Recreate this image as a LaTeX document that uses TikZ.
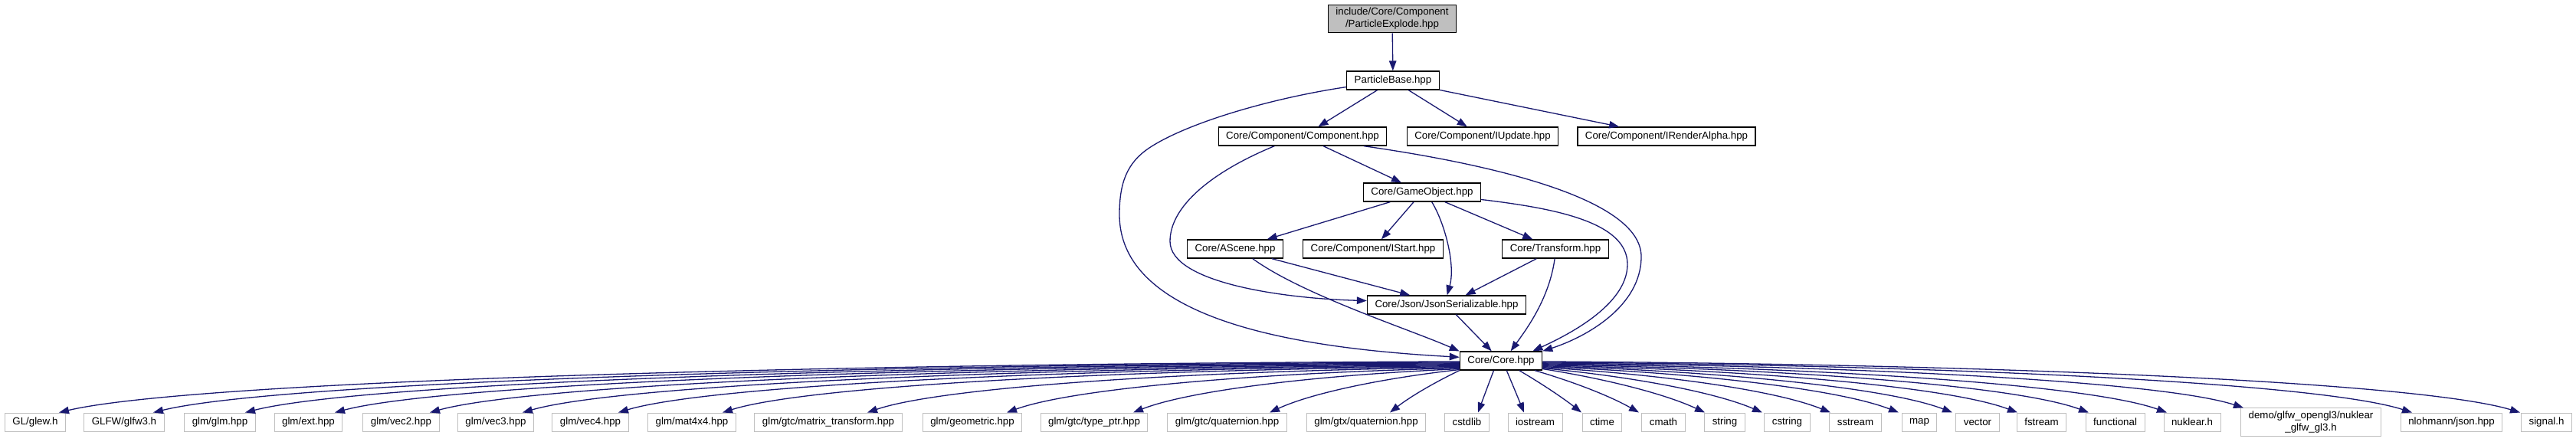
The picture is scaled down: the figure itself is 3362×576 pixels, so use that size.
\documentclass[tikz,border=0pt]{standalone}
\usepackage{fontspec}
\setmainfont{Liberation Sans}
\usetikzlibrary{arrows.meta,calc}
\definecolor{edgeblue}{HTML}{191970}
\definecolor{boxgray}{HTML}{BFBFBF}
\tikzset{
	hdr/.style={draw=black, line width=1.3pt, fill=white, inner xsep=10pt, inner ysep=4pt,
		minimum height=24pt, align=center, font=\fontsize{13.3}{16}\selectfont},
	syshdr/.style={hdr, draw=boxgray, line width=1pt},
	dep/.style={draw=edgeblue, line width=1.3pt, -{Triangle[length=13pt,width=9.5pt]}},
}
\begin{document}
\begin{tikzpicture}[x=1pt,y=-1pt]
	\path[fill=white] (0,0) rectangle (3362,576);
	\useasboundingbox (0,0) rectangle (3362,576);
	% Project headers
	\node[hdr, fill=boxgray] (root) at (1817,24.5) {include/Core/Component\\/ParticleExplode.hpp};
	\node[hdr] (pbase) at (1818,105) {ParticleBase.hpp};
	\node[hdr] (comp) at (1700,178) {Core/Component/Component.hpp};
	\node[hdr] (iupd) at (1935,178) {Core/Component/IUpdate.hpp};
	\node[hdr] (irend) at (2175,178) {Core/Component/IRenderAlpha.hpp};
	\node[hdr] (gobj) at (1856,251) {Core/GameObject.hpp};
	\node[hdr] (ascene) at (1612,325) {Core/AScene.hpp};
	\node[hdr] (istart) at (1792,325) {Core/Component/IStart.hpp};
	\node[hdr] (transf) at (2030,325) {Core/Transform.hpp};
	\node[hdr] (json) at (1888,398) {Core/Json/JsonSerializable.hpp};
	\node[hdr] (core) at (1959,471) {Core/Core.hpp};
	% Includes between project headers
	\draw[dep] (root) -- (pbase);
	\draw[dep] (pbase) -- (comp);
	\draw[dep] (pbase) -- (iupd);
	\draw[dep] (pbase) -- (irend);
	\draw[dep] (pbase.188) .. controls (1660,128) and (1550,160) .. (1500,193)
		.. controls (1470,213) and (1461,240) .. (1461,280)
		.. controls (1461,420) and (1700,455) .. (core.175);
	\draw[dep] (comp) -- (gobj);
	\draw[dep] (comp.199) .. controls (1580,225) and (1527,270) .. (1527,315)
		.. controls (1527,370) and (1680,390) .. (json.177);
	\draw[dep] (comp.351) .. controls (1950,215) and (2142,260) .. (2142,335)
		.. controls (2142,400) and (2070,440) .. (core.north east);
	\draw[dep] (gobj) -- (ascene);
	\draw[dep] (gobj) -- (istart);
	\draw[dep] (gobj.315) .. controls (1885,290) and (1900,345) .. (json.87);
	\draw[dep] (gobj) -- (transf);
	\draw[dep] (gobj.353) .. controls (2030,272) and (2124,290) .. (2124,345)
		.. controls (2124,400) and (2040,440) .. (core.17);
	\draw[dep] (ascene) -- (json);
	\draw[dep] (ascene.331) .. controls (1700,385) and (1840,430) .. (core.167);
	\draw[dep] (transf) -- (json);
	\draw[dep] (transf.266) .. controls (2022,390) and (1992,430) .. (core.45);
	\draw[dep] (json) -- (core);
	% System and library headers
	\foreach \hf/\cx/\dx/\anc/\txt in {
			glew/46/31/181/{GL/glew.h},
			glfw/162/38/182/{GLFW/glfw3.h},
			glmmain/287/33/183/{glm/glm.hpp},
			glmext/402.5/34.5/184/{glm/ext.hpp},
			vectwo/523.5/37.5/185/{glm/vec2.hpp},
			vecthree/647/35/186/{glm/vec3.hpp},
			vecfour/770.5/36.5/187/{glm/vec4.hpp},
			matfour/903/40/188/{glm/mat4x4.hpp},
			mattrans/1081/51/189/{glm/gtc/matrix\_transform.hpp},
			geom/1269/45/190/{glm/geometric.hpp},
			typeptr/1428/51/191/{glm/gtc/type\_ptr.hpp},
			gtcquat/1601.5/55.5/192/{glm/gtc/quaternion.hpp},
			gtxquat/1783/31/south west/{glm/gtx/quaternion.hpp},
			cstdlib/1914.5/14.5/233/{cstdlib},
			iostream/2003.5/-14.5/300/{iostream},
			ctime/2091/-27/332/{ctime},
			cmath/2171/-32/344/{cmath},
			string/2251/-26/349/{string},
			cstring/2332.5/-32.5/350/{cstring},
			sstream/2421.5/-32.5/351/{sstream},
			map/2505/-27/352/{map},
			vector/2581/-33/353/{vector},
			fstream/2664.5/-31.5/354/{fstream},
			functional/2760.5/-34.5/355/{functional},
			nuklear/2861/-33/356/{nuklear.h},
			nkglfw/3016/-88/357/{demo/glfw\_opengl3/nuklear\\\_glfw\_gl3.h},
			nlohmann/3199.5/-51.5/358/{nlohmann/json.hpp},
			signal/3323.5/-34.5/359/{signal.h}} {
			\node[syshdr] (\hf) at (\cx,551) {\txt};
			% near targets get straighter edges
			\pgfmathsetmacro\w{1/(1+((\cx-1959)/400)^2)}
			\draw[dep] let \p1=(core.\anc), \p2=([xshift=\dx pt]\hf.north) in
				(\p1) .. controls ({\x1+(\x2-\x1)*(0.5-\w/6)},{\y1+\w*(\y2-\y1)/3-(1-\w)*2pt})
				and ({\x1+(\x2-\x1)*(0.92-0.2533*\w)},{\y1+(\y2-\y1)*(0.4+0.2667*\w)}) .. (\p2);
		}
\end{tikzpicture}
\end{document}
